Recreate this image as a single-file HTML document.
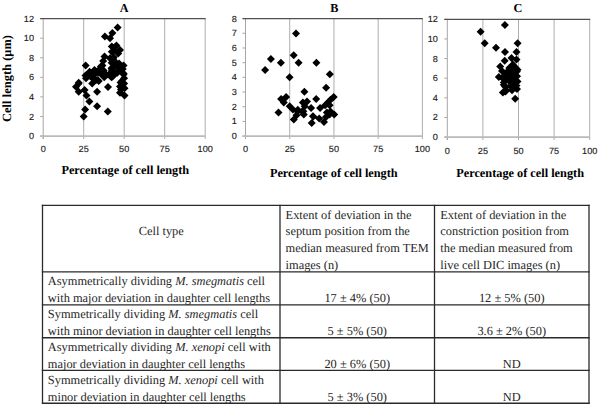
<!DOCTYPE html>
<html><head><meta charset="utf-8"><title>Figure</title>
<style>
html,body{margin:0;padding:0;background:#fff;text-rendering:geometricPrecision}
body{width:600px;height:407px;position:relative;overflow:hidden}
.ln{position:absolute;background:#2a2a2a}
.t{position:absolute;font-family:"Liberation Serif",serif;font-size:12.4px;line-height:16px;height:16px;color:#262626;white-space:nowrap}
.t.c{width:200px;text-align:center}
</style></head><body>
<svg width="600" height="190" viewBox="0 0 600 190" style="position:absolute;left:0;top:0">
<style>.tk{font-family:"Liberation Sans",sans-serif;font-size:8.9px;fill:#1a1a1a;stroke:#1a1a1a;stroke-width:0.12px} .ti{font-family:"Liberation Serif",serif;font-weight:bold;font-size:12.2px;fill:#000} .xt{font-size:12.3px} .yt{font-size:12.5px}</style>
<line x1="83.70" y1="18.60" x2="83.70" y2="136.10" stroke="#adadad" stroke-width="1"/>
<line x1="124.20" y1="18.60" x2="124.20" y2="136.10" stroke="#adadad" stroke-width="1"/>
<line x1="164.70" y1="18.60" x2="164.70" y2="136.10" stroke="#adadad" stroke-width="1"/>
<line x1="205.20" y1="18.60" x2="205.20" y2="136.10" stroke="#adadad" stroke-width="1"/>
<line x1="43.20" y1="18.60" x2="43.20" y2="138.90" stroke="#a6a6a6" stroke-width="1"/>
<line x1="43.20" y1="136.10" x2="43.20" y2="138.90" stroke="#a6a6a6" stroke-width="1"/>
<line x1="83.70" y1="136.10" x2="83.70" y2="138.90" stroke="#a6a6a6" stroke-width="1"/>
<line x1="124.20" y1="136.10" x2="124.20" y2="138.90" stroke="#a6a6a6" stroke-width="1"/>
<line x1="164.70" y1="136.10" x2="164.70" y2="138.90" stroke="#a6a6a6" stroke-width="1"/>
<line x1="205.20" y1="136.10" x2="205.20" y2="138.90" stroke="#a6a6a6" stroke-width="1"/>
<line x1="40.20" y1="136.10" x2="43.20" y2="136.10" stroke="#a6a6a6" stroke-width="1"/>
<text transform="translate(34.00,139.10) scale(1.03,1)" class="tk" text-anchor="end">0</text>
<line x1="40.20" y1="116.52" x2="43.20" y2="116.52" stroke="#a6a6a6" stroke-width="1"/>
<text transform="translate(34.00,119.52) scale(1.03,1)" class="tk" text-anchor="end">2</text>
<line x1="40.20" y1="96.93" x2="43.20" y2="96.93" stroke="#a6a6a6" stroke-width="1"/>
<text transform="translate(34.00,99.93) scale(1.03,1)" class="tk" text-anchor="end">4</text>
<line x1="40.20" y1="77.35" x2="43.20" y2="77.35" stroke="#a6a6a6" stroke-width="1"/>
<text transform="translate(34.00,80.35) scale(1.03,1)" class="tk" text-anchor="end">6</text>
<line x1="40.20" y1="57.77" x2="43.20" y2="57.77" stroke="#a6a6a6" stroke-width="1"/>
<text transform="translate(34.00,60.77) scale(1.03,1)" class="tk" text-anchor="end">8</text>
<line x1="40.20" y1="38.18" x2="43.20" y2="38.18" stroke="#a6a6a6" stroke-width="1"/>
<text transform="translate(34.00,41.18) scale(1.03,1)" class="tk" text-anchor="end">10</text>
<line x1="40.20" y1="18.60" x2="43.20" y2="18.60" stroke="#a6a6a6" stroke-width="1"/>
<text transform="translate(34.00,21.60) scale(1.03,1)" class="tk" text-anchor="end">12</text>
<line x1="40.20" y1="136.10" x2="205.20" y2="136.10" stroke="#bababa" stroke-width="1.8"/>
<line x1="40.20" y1="18.60" x2="205.70" y2="18.60" stroke="#505050" stroke-width="1.2"/>
<text transform="translate(43.20,152.30) scale(1.03,1)" class="tk" text-anchor="middle">0</text>
<text transform="translate(83.70,152.30) scale(1.03,1)" class="tk" text-anchor="middle">25</text>
<text transform="translate(124.20,152.30) scale(1.03,1)" class="tk" text-anchor="middle">50</text>
<text transform="translate(164.70,152.30) scale(1.03,1)" class="tk" text-anchor="middle">75</text>
<text transform="translate(205.20,152.30) scale(1.03,1)" class="tk" text-anchor="middle">100</text>
<path d="M117.6 23.6l4.0 4.0l-4.0 4.0l-4.0 -4.0zM104.9 32.4l4.0 4.0l-4.0 4.0l-4.0 -4.0zM112.4 29.0l4.0 4.0l-4.0 4.0l-4.0 -4.0zM110.0 34.3l4.0 4.0l-4.0 4.0l-4.0 -4.0zM111.8 42.4l4.0 4.0l-4.0 4.0l-4.0 -4.0zM116.4 41.5l4.0 4.0l-4.0 4.0l-4.0 -4.0zM120.0 46.0l4.0 4.0l-4.0 4.0l-4.0 -4.0zM114.5 46.9l4.0 4.0l-4.0 4.0l-4.0 -4.0zM111.8 47.8l4.0 4.0l-4.0 4.0l-4.0 -4.0zM118.2 49.6l4.0 4.0l-4.0 4.0l-4.0 -4.0zM104.5 52.4l4.0 4.0l-4.0 4.0l-4.0 -4.0zM113.6 53.3l4.0 4.0l-4.0 4.0l-4.0 -4.0zM110.0 54.2l4.0 4.0l-4.0 4.0l-4.0 -4.0zM113.3 55.1l4.0 4.0l-4.0 4.0l-4.0 -4.0zM85.7 61.5l4.0 4.0l-4.0 4.0l-4.0 -4.0zM103.2 56.9l4.0 4.0l-4.0 4.0l-4.0 -4.0zM102.4 61.5l4.0 4.0l-4.0 4.0l-4.0 -4.0zM100.9 62.4l4.0 4.0l-4.0 4.0l-4.0 -4.0zM111.6 58.7l4.0 4.0l-4.0 4.0l-4.0 -4.0zM114.5 60.5l4.0 4.0l-4.0 4.0l-4.0 -4.0zM116.9 59.6l4.0 4.0l-4.0 4.0l-4.0 -4.0zM119.1 59.6l4.0 4.0l-4.0 4.0l-4.0 -4.0zM123.6 61.5l4.0 4.0l-4.0 4.0l-4.0 -4.0zM122.7 65.1l4.0 4.0l-4.0 4.0l-4.0 -4.0zM111.5 64.2l4.0 4.0l-4.0 4.0l-4.0 -4.0zM89.6 67.8l4.0 4.0l-4.0 4.0l-4.0 -4.0zM95.1 66.9l4.0 4.0l-4.0 4.0l-4.0 -4.0zM99.6 65.1l4.0 4.0l-4.0 4.0l-4.0 -4.0zM94.5 66.0l4.0 4.0l-4.0 4.0l-4.0 -4.0zM98.2 68.7l4.0 4.0l-4.0 4.0l-4.0 -4.0zM103.6 66.5l4.0 4.0l-4.0 4.0l-4.0 -4.0zM102.7 70.5l4.0 4.0l-4.0 4.0l-4.0 -4.0zM104.2 70.5l4.0 4.0l-4.0 4.0l-4.0 -4.0zM111.8 66.0l4.0 4.0l-4.0 4.0l-4.0 -4.0zM116.4 68.7l4.0 4.0l-4.0 4.0l-4.0 -4.0zM123.6 70.5l4.0 4.0l-4.0 4.0l-4.0 -4.0zM117.8 63.8l4.0 4.0l-4.0 4.0l-4.0 -4.0zM109.6 71.5l4.0 4.0l-4.0 4.0l-4.0 -4.0zM111.2 68.2l4.0 4.0l-4.0 4.0l-4.0 -4.0zM117.3 68.7l4.0 4.0l-4.0 4.0l-4.0 -4.0zM86.0 74.2l4.0 4.0l-4.0 4.0l-4.0 -4.0zM91.5 73.3l4.0 4.0l-4.0 4.0l-4.0 -4.0zM97.8 76.0l4.0 4.0l-4.0 4.0l-4.0 -4.0zM92.2 79.6l4.0 4.0l-4.0 4.0l-4.0 -4.0zM78.7 78.7l4.0 4.0l-4.0 4.0l-4.0 -4.0zM89.6 69.6l4.0 4.0l-4.0 4.0l-4.0 -4.0zM93.3 71.5l4.0 4.0l-4.0 4.0l-4.0 -4.0zM100.5 69.6l4.0 4.0l-4.0 4.0l-4.0 -4.0zM105.0 69.6l4.0 4.0l-4.0 4.0l-4.0 -4.0zM104.2 73.3l4.0 4.0l-4.0 4.0l-4.0 -4.0zM111.5 73.3l4.0 4.0l-4.0 4.0l-4.0 -4.0zM112.7 72.4l4.0 4.0l-4.0 4.0l-4.0 -4.0zM98.7 76.9l4.0 4.0l-4.0 4.0l-4.0 -4.0zM96.0 76.0l4.0 4.0l-4.0 4.0l-4.0 -4.0zM85.5 71.5l4.0 4.0l-4.0 4.0l-4.0 -4.0zM120.6 78.5l4.0 4.0l-4.0 4.0l-4.0 -4.0zM121.0 85.5l4.0 4.0l-4.0 4.0l-4.0 -4.0zM121.4 66.5l4.0 4.0l-4.0 4.0l-4.0 -4.0zM123.6 69.6l4.0 4.0l-4.0 4.0l-4.0 -4.0zM124.1 74.2l4.0 4.0l-4.0 4.0l-4.0 -4.0zM121.8 76.9l4.0 4.0l-4.0 4.0l-4.0 -4.0zM124.1 79.6l4.0 4.0l-4.0 4.0l-4.0 -4.0zM120.0 82.4l4.0 4.0l-4.0 4.0l-4.0 -4.0zM124.5 84.2l4.0 4.0l-4.0 4.0l-4.0 -4.0zM120.0 88.7l4.0 4.0l-4.0 4.0l-4.0 -4.0zM124.5 91.5l4.0 4.0l-4.0 4.0l-4.0 -4.0zM76.0 82.8l4.0 4.0l-4.0 4.0l-4.0 -4.0zM78.7 79.6l4.0 4.0l-4.0 4.0l-4.0 -4.0zM78.7 87.8l4.0 4.0l-4.0 4.0l-4.0 -4.0zM84.6 86.0l4.0 4.0l-4.0 4.0l-4.0 -4.0zM86.5 91.5l4.0 4.0l-4.0 4.0l-4.0 -4.0zM89.4 97.6l4.0 4.0l-4.0 4.0l-4.0 -4.0zM97.1 87.8l4.0 4.0l-4.0 4.0l-4.0 -4.0zM108.0 83.0l4.0 4.0l-4.0 4.0l-4.0 -4.0zM97.1 102.3l4.0 4.0l-4.0 4.0l-4.0 -4.0zM85.1 105.4l4.0 4.0l-4.0 4.0l-4.0 -4.0zM83.7 112.5l4.0 4.0l-4.0 4.0l-4.0 -4.0zM107.8 107.5l4.0 4.0l-4.0 4.0l-4.0 -4.0z" fill="#000"/>
<text x="124.20" y="11.5" class="ti" text-anchor="middle">A</text>
<text x="125.30" y="174.30" class="ti xt" text-anchor="middle">Percentage of cell length</text>
<line x1="289.73" y1="18.60" x2="289.73" y2="136.10" stroke="#adadad" stroke-width="1"/>
<line x1="333.95" y1="18.60" x2="333.95" y2="136.10" stroke="#adadad" stroke-width="1"/>
<line x1="378.17" y1="18.60" x2="378.17" y2="136.10" stroke="#adadad" stroke-width="1"/>
<line x1="422.40" y1="18.60" x2="422.40" y2="136.10" stroke="#adadad" stroke-width="1"/>
<line x1="245.50" y1="18.60" x2="245.50" y2="138.90" stroke="#a6a6a6" stroke-width="1"/>
<line x1="245.50" y1="136.10" x2="245.50" y2="138.90" stroke="#a6a6a6" stroke-width="1"/>
<line x1="289.73" y1="136.10" x2="289.73" y2="138.90" stroke="#a6a6a6" stroke-width="1"/>
<line x1="333.95" y1="136.10" x2="333.95" y2="138.90" stroke="#a6a6a6" stroke-width="1"/>
<line x1="378.17" y1="136.10" x2="378.17" y2="138.90" stroke="#a6a6a6" stroke-width="1"/>
<line x1="422.40" y1="136.10" x2="422.40" y2="138.90" stroke="#a6a6a6" stroke-width="1"/>
<line x1="242.50" y1="136.10" x2="245.50" y2="136.10" stroke="#a6a6a6" stroke-width="1"/>
<text transform="translate(236.80,139.10) scale(1.03,1)" class="tk" text-anchor="end">0</text>
<line x1="242.50" y1="121.41" x2="245.50" y2="121.41" stroke="#a6a6a6" stroke-width="1"/>
<text transform="translate(236.80,124.41) scale(1.03,1)" class="tk" text-anchor="end">1</text>
<line x1="242.50" y1="106.72" x2="245.50" y2="106.72" stroke="#a6a6a6" stroke-width="1"/>
<text transform="translate(236.80,109.72) scale(1.03,1)" class="tk" text-anchor="end">2</text>
<line x1="242.50" y1="92.04" x2="245.50" y2="92.04" stroke="#a6a6a6" stroke-width="1"/>
<text transform="translate(236.80,95.04) scale(1.03,1)" class="tk" text-anchor="end">3</text>
<line x1="242.50" y1="77.35" x2="245.50" y2="77.35" stroke="#a6a6a6" stroke-width="1"/>
<text transform="translate(236.80,80.35) scale(1.03,1)" class="tk" text-anchor="end">4</text>
<line x1="242.50" y1="62.66" x2="245.50" y2="62.66" stroke="#a6a6a6" stroke-width="1"/>
<text transform="translate(236.80,65.66) scale(1.03,1)" class="tk" text-anchor="end">5</text>
<line x1="242.50" y1="47.97" x2="245.50" y2="47.97" stroke="#a6a6a6" stroke-width="1"/>
<text transform="translate(236.80,50.97) scale(1.03,1)" class="tk" text-anchor="end">6</text>
<line x1="242.50" y1="33.29" x2="245.50" y2="33.29" stroke="#a6a6a6" stroke-width="1"/>
<text transform="translate(236.80,36.29) scale(1.03,1)" class="tk" text-anchor="end">7</text>
<line x1="242.50" y1="18.60" x2="245.50" y2="18.60" stroke="#a6a6a6" stroke-width="1"/>
<text transform="translate(236.80,21.60) scale(1.03,1)" class="tk" text-anchor="end">8</text>
<line x1="242.50" y1="136.10" x2="422.40" y2="136.10" stroke="#bababa" stroke-width="1.8"/>
<line x1="242.50" y1="18.60" x2="422.90" y2="18.60" stroke="#505050" stroke-width="1.2"/>
<text transform="translate(245.50,152.30) scale(1.03,1)" class="tk" text-anchor="middle">0</text>
<text transform="translate(289.73,152.30) scale(1.03,1)" class="tk" text-anchor="middle">25</text>
<text transform="translate(333.95,152.30) scale(1.03,1)" class="tk" text-anchor="middle">50</text>
<text transform="translate(378.17,152.30) scale(1.03,1)" class="tk" text-anchor="middle">75</text>
<text transform="translate(422.40,152.30) scale(1.03,1)" class="tk" text-anchor="middle">100</text>
<path d="M296.0 29.4l4.0 4.0l-4.0 4.0l-4.0 -4.0zM270.9 54.9l4.0 4.0l-4.0 4.0l-4.0 -4.0zM280.9 58.7l4.0 4.0l-4.0 4.0l-4.0 -4.0zM265.1 66.0l4.0 4.0l-4.0 4.0l-4.0 -4.0zM293.7 51.3l4.0 4.0l-4.0 4.0l-4.0 -4.0zM298.6 58.7l4.0 4.0l-4.0 4.0l-4.0 -4.0zM289.6 73.3l4.0 4.0l-4.0 4.0l-4.0 -4.0zM316.4 58.7l4.0 4.0l-4.0 4.0l-4.0 -4.0zM329.8 70.3l4.0 4.0l-4.0 4.0l-4.0 -4.0zM326.1 83.7l4.0 4.0l-4.0 4.0l-4.0 -4.0zM304.4 87.8l4.0 4.0l-4.0 4.0l-4.0 -4.0zM281.1 94.9l4.0 4.0l-4.0 4.0l-4.0 -4.0zM286.1 93.1l4.0 4.0l-4.0 4.0l-4.0 -4.0zM283.8 98.5l4.0 4.0l-4.0 4.0l-4.0 -4.0zM278.5 108.4l4.0 4.0l-4.0 4.0l-4.0 -4.0zM289.7 102.2l4.0 4.0l-4.0 4.0l-4.0 -4.0zM292.9 105.4l4.0 4.0l-4.0 4.0l-4.0 -4.0zM302.9 98.5l4.0 4.0l-4.0 4.0l-4.0 -4.0zM307.0 97.6l4.0 4.0l-4.0 4.0l-4.0 -4.0zM304.7 102.2l4.0 4.0l-4.0 4.0l-4.0 -4.0zM311.1 104.0l4.0 4.0l-4.0 4.0l-4.0 -4.0zM297.5 107.6l4.0 4.0l-4.0 4.0l-4.0 -4.0zM302.0 107.6l4.0 4.0l-4.0 4.0l-4.0 -4.0zM303.8 110.4l4.0 4.0l-4.0 4.0l-4.0 -4.0zM296.5 111.3l4.0 4.0l-4.0 4.0l-4.0 -4.0zM293.8 115.4l4.0 4.0l-4.0 4.0l-4.0 -4.0zM316.2 95.1l4.0 4.0l-4.0 4.0l-4.0 -4.0zM312.9 112.2l4.0 4.0l-4.0 4.0l-4.0 -4.0zM311.7 119.0l4.0 4.0l-4.0 4.0l-4.0 -4.0zM297.8 105.8l4.0 4.0l-4.0 4.0l-4.0 -4.0zM303.3 107.2l4.0 4.0l-4.0 4.0l-4.0 -4.0zM320.1 104.0l4.0 4.0l-4.0 4.0l-4.0 -4.0zM313.3 112.6l4.0 4.0l-4.0 4.0l-4.0 -4.0zM319.2 114.5l4.0 4.0l-4.0 4.0l-4.0 -4.0zM333.7 93.1l4.0 4.0l-4.0 4.0l-4.0 -4.0zM330.5 95.8l4.0 4.0l-4.0 4.0l-4.0 -4.0zM327.8 98.5l4.0 4.0l-4.0 4.0l-4.0 -4.0zM325.1 101.3l4.0 4.0l-4.0 4.0l-4.0 -4.0zM329.6 101.3l4.0 4.0l-4.0 4.0l-4.0 -4.0zM334.2 110.4l4.0 4.0l-4.0 4.0l-4.0 -4.0zM329.6 110.4l4.0 4.0l-4.0 4.0l-4.0 -4.0zM326.9 108.5l4.0 4.0l-4.0 4.0l-4.0 -4.0zM326.0 113.1l4.0 4.0l-4.0 4.0l-4.0 -4.0zM324.0 118.0l4.0 4.0l-4.0 4.0l-4.0 -4.0zM330.5 107.6l4.0 4.0l-4.0 4.0l-4.0 -4.0z" fill="#000"/>
<text x="334.20" y="11.5" class="ti" text-anchor="middle">B</text>
<text x="333.80" y="176.90" class="ti xt" text-anchor="middle">Percentage of cell length</text>
<line x1="482.90" y1="19.30" x2="482.90" y2="137.10" stroke="#adadad" stroke-width="1"/>
<line x1="518.50" y1="19.30" x2="518.50" y2="137.10" stroke="#adadad" stroke-width="1"/>
<line x1="554.10" y1="19.30" x2="554.10" y2="137.10" stroke="#adadad" stroke-width="1"/>
<line x1="589.70" y1="19.30" x2="589.70" y2="137.10" stroke="#adadad" stroke-width="1"/>
<line x1="447.30" y1="19.30" x2="447.30" y2="139.90" stroke="#a6a6a6" stroke-width="1"/>
<line x1="447.30" y1="137.10" x2="447.30" y2="139.90" stroke="#a6a6a6" stroke-width="1"/>
<line x1="482.90" y1="137.10" x2="482.90" y2="139.90" stroke="#a6a6a6" stroke-width="1"/>
<line x1="518.50" y1="137.10" x2="518.50" y2="139.90" stroke="#a6a6a6" stroke-width="1"/>
<line x1="554.10" y1="137.10" x2="554.10" y2="139.90" stroke="#a6a6a6" stroke-width="1"/>
<line x1="589.70" y1="137.10" x2="589.70" y2="139.90" stroke="#a6a6a6" stroke-width="1"/>
<line x1="444.30" y1="137.10" x2="447.30" y2="137.10" stroke="#a6a6a6" stroke-width="1"/>
<text transform="translate(437.80,140.10) scale(1.03,1)" class="tk" text-anchor="end">0</text>
<line x1="444.30" y1="117.47" x2="447.30" y2="117.47" stroke="#a6a6a6" stroke-width="1"/>
<text transform="translate(437.80,120.47) scale(1.03,1)" class="tk" text-anchor="end">2</text>
<line x1="444.30" y1="97.83" x2="447.30" y2="97.83" stroke="#a6a6a6" stroke-width="1"/>
<text transform="translate(437.80,100.83) scale(1.03,1)" class="tk" text-anchor="end">4</text>
<line x1="444.30" y1="78.20" x2="447.30" y2="78.20" stroke="#a6a6a6" stroke-width="1"/>
<text transform="translate(437.80,81.20) scale(1.03,1)" class="tk" text-anchor="end">6</text>
<line x1="444.30" y1="58.57" x2="447.30" y2="58.57" stroke="#a6a6a6" stroke-width="1"/>
<text transform="translate(437.80,61.57) scale(1.03,1)" class="tk" text-anchor="end">8</text>
<line x1="444.30" y1="38.93" x2="447.30" y2="38.93" stroke="#a6a6a6" stroke-width="1"/>
<text transform="translate(437.80,41.93) scale(1.03,1)" class="tk" text-anchor="end">10</text>
<line x1="444.30" y1="19.30" x2="447.30" y2="19.30" stroke="#a6a6a6" stroke-width="1"/>
<text transform="translate(437.80,22.30) scale(1.03,1)" class="tk" text-anchor="end">12</text>
<line x1="444.30" y1="137.10" x2="589.70" y2="137.10" stroke="#bababa" stroke-width="1.8"/>
<line x1="444.30" y1="19.30" x2="590.20" y2="19.30" stroke="#505050" stroke-width="1.2"/>
<text transform="translate(447.30,153.60) scale(1.03,1)" class="tk" text-anchor="middle">0</text>
<text transform="translate(482.90,153.60) scale(1.03,1)" class="tk" text-anchor="middle">25</text>
<text transform="translate(518.50,153.60) scale(1.03,1)" class="tk" text-anchor="middle">50</text>
<text transform="translate(554.10,153.60) scale(1.03,1)" class="tk" text-anchor="middle">75</text>
<text transform="translate(589.70,153.60) scale(1.03,1)" class="tk" text-anchor="middle">100</text>
<path d="M504.9 21.0l4.0 4.0l-4.0 4.0l-4.0 -4.0zM480.6 27.8l4.0 4.0l-4.0 4.0l-4.0 -4.0zM484.7 39.2l4.0 4.0l-4.0 4.0l-4.0 -4.0zM517.6 39.2l4.0 4.0l-4.0 4.0l-4.0 -4.0zM496.0 43.7l4.0 4.0l-4.0 4.0l-4.0 -4.0zM505.0 47.9l4.0 4.0l-4.0 4.0l-4.0 -4.0zM516.5 47.9l4.0 4.0l-4.0 4.0l-4.0 -4.0zM504.7 56.7l4.0 4.0l-4.0 4.0l-4.0 -4.0zM511.5 54.0l4.0 4.0l-4.0 4.0l-4.0 -4.0zM516.5 55.4l4.0 4.0l-4.0 4.0l-4.0 -4.0zM500.2 62.6l4.0 4.0l-4.0 4.0l-4.0 -4.0zM512.9 60.4l4.0 4.0l-4.0 4.0l-4.0 -4.0zM509.3 64.0l4.0 4.0l-4.0 4.0l-4.0 -4.0zM517.5 65.8l4.0 4.0l-4.0 4.0l-4.0 -4.0zM498.8 73.1l4.0 4.0l-4.0 4.0l-4.0 -4.0zM504.7 71.3l4.0 4.0l-4.0 4.0l-4.0 -4.0zM511.1 70.4l4.0 4.0l-4.0 4.0l-4.0 -4.0zM517.0 72.2l4.0 4.0l-4.0 4.0l-4.0 -4.0zM503.8 78.5l4.0 4.0l-4.0 4.0l-4.0 -4.0zM513.8 77.6l4.0 4.0l-4.0 4.0l-4.0 -4.0zM517.5 77.6l4.0 4.0l-4.0 4.0l-4.0 -4.0zM503.8 80.7l4.0 4.0l-4.0 4.0l-4.0 -4.0zM502.9 88.5l4.0 4.0l-4.0 4.0l-4.0 -4.0zM515.2 94.8l4.0 4.0l-4.0 4.0l-4.0 -4.0zM516.5 81.6l4.0 4.0l-4.0 4.0l-4.0 -4.0zM512.0 86.2l4.0 4.0l-4.0 4.0l-4.0 -4.0zM515.6 77.1l4.0 4.0l-4.0 4.0l-4.0 -4.0zM511.1 78.9l4.0 4.0l-4.0 4.0l-4.0 -4.0zM509.3 73.5l4.0 4.0l-4.0 4.0l-4.0 -4.0zM512.9 69.8l4.0 4.0l-4.0 4.0l-4.0 -4.0zM504.7 71.6l4.0 4.0l-4.0 4.0l-4.0 -4.0zM516.8 67.5l4.0 4.0l-4.0 4.0l-4.0 -4.0zM508.0 67.0l4.0 4.0l-4.0 4.0l-4.0 -4.0zM512.0 66.0l4.0 4.0l-4.0 4.0l-4.0 -4.0zM515.5 63.5l4.0 4.0l-4.0 4.0l-4.0 -4.0zM507.0 75.5l4.0 4.0l-4.0 4.0l-4.0 -4.0zM512.0 74.0l4.0 4.0l-4.0 4.0l-4.0 -4.0zM510.5 82.0l4.0 4.0l-4.0 4.0l-4.0 -4.0zM514.0 83.0l4.0 4.0l-4.0 4.0l-4.0 -4.0zM517.0 85.0l4.0 4.0l-4.0 4.0l-4.0 -4.0zM506.0 86.0l4.0 4.0l-4.0 4.0l-4.0 -4.0zM502.0 67.0l4.0 4.0l-4.0 4.0l-4.0 -4.0zM502.5 74.0l4.0 4.0l-4.0 4.0l-4.0 -4.0zM505.5 87.5l4.0 4.0l-4.0 4.0l-4.0 -4.0zM505.0 82.5l4.0 4.0l-4.0 4.0l-4.0 -4.0z" fill="#000"/>
<text x="517.80" y="11.5" class="ti" text-anchor="middle">C</text>
<text x="520.10" y="176.90" class="ti xt" text-anchor="middle">Percentage of cell length</text>
<text transform="translate(11,78.5) rotate(-90)" class="ti yt" text-anchor="middle">Cell length (μm)</text>
</svg>
<div class="t" style="left:285.60px;top:206.55px">Extent of deviation in the</div><div class="t" style="left:285.60px;top:223.35px">septum position from the</div><div class="t" style="left:285.60px;top:240.15px">median measured from TEM</div><div class="t" style="left:285.60px;top:256.95px">images (n)</div><div class="t" style="left:440.30px;top:206.55px">Extent of deviation in the</div><div class="t" style="left:440.30px;top:223.35px">constriction position from</div><div class="t" style="left:440.30px;top:240.15px">the median measured from</div><div class="t" style="left:440.30px;top:256.95px">live cell DIC images (n)</div><div class="t c" style="left:61.25px;top:222.75px">Cell type</div><div class="t" style="left:47.80px;top:273.15px">Asymmetrically dividing <i>M. smegmatis</i> cell</div><div class="t" style="left:47.80px;top:290.15px">with major deviation in daughter cell lengths</div><div class="t c" style="left:257.25px;top:290.15px">17 ± 4% (50)</div><div class="t c" style="left:411.75px;top:290.15px">12 ± 5% (50)</div><div class="t" style="left:47.80px;top:306.05px">Symmetrically dividing <i>M. smegmatis</i> cell</div><div class="t" style="left:47.80px;top:323.05px">with minor deviation in daughter cell lengths</div><div class="t c" style="left:257.25px;top:323.05px">5 ± 5% (50)</div><div class="t c" style="left:411.75px;top:323.05px">3.6 ± 2% (50)</div><div class="t" style="left:47.80px;top:339.00px">Asymmetrically dividing <i>M. xenopi</i> cell with</div><div class="t" style="left:47.80px;top:356.00px">major deviation in daughter cell lengths</div><div class="t c" style="left:257.25px;top:356.00px">20 ± 6% (50)</div><div class="t c" style="left:411.75px;top:356.00px">ND</div><div class="t" style="left:47.80px;top:371.65px">Symmetrically dividing <i>M. xenopi</i> cell with</div><div class="t" style="left:47.80px;top:388.65px">minor deviation in daughter cell lengths</div><div class="t c" style="left:257.25px;top:388.65px">5 ± 3% (50)</div><div class="t c" style="left:411.75px;top:388.65px">ND</div>
<svg width="600" height="407" style="position:absolute;left:0;top:0" shape-rendering="geometricPrecision"><line x1="41.85" y1="205.4" x2="589.65" y2="205.4" stroke="#2a2a2a" stroke-width="1.3"/><line x1="41.85" y1="271.9" x2="589.65" y2="271.9" stroke="#2a2a2a" stroke-width="1.3"/><line x1="41.85" y1="304.8" x2="589.65" y2="304.8" stroke="#2a2a2a" stroke-width="1.3"/><line x1="41.85" y1="337.75" x2="589.65" y2="337.75" stroke="#2a2a2a" stroke-width="1.3"/><line x1="41.85" y1="370.4" x2="589.65" y2="370.4" stroke="#2a2a2a" stroke-width="1.3"/><line x1="41.85" y1="403.25" x2="589.65" y2="403.25" stroke="#2a2a2a" stroke-width="1.3"/><line x1="42.5" y1="204.75" x2="42.5" y2="403.90" stroke="#2a2a2a" stroke-width="1.3"/><line x1="280.0" y1="204.75" x2="280.0" y2="403.90" stroke="#2a2a2a" stroke-width="1.3"/><line x1="434.5" y1="204.75" x2="434.5" y2="403.90" stroke="#2a2a2a" stroke-width="1.3"/><line x1="589.0" y1="204.75" x2="589.0" y2="403.90" stroke="#2a2a2a" stroke-width="1.3"/></svg>
</body></html>
